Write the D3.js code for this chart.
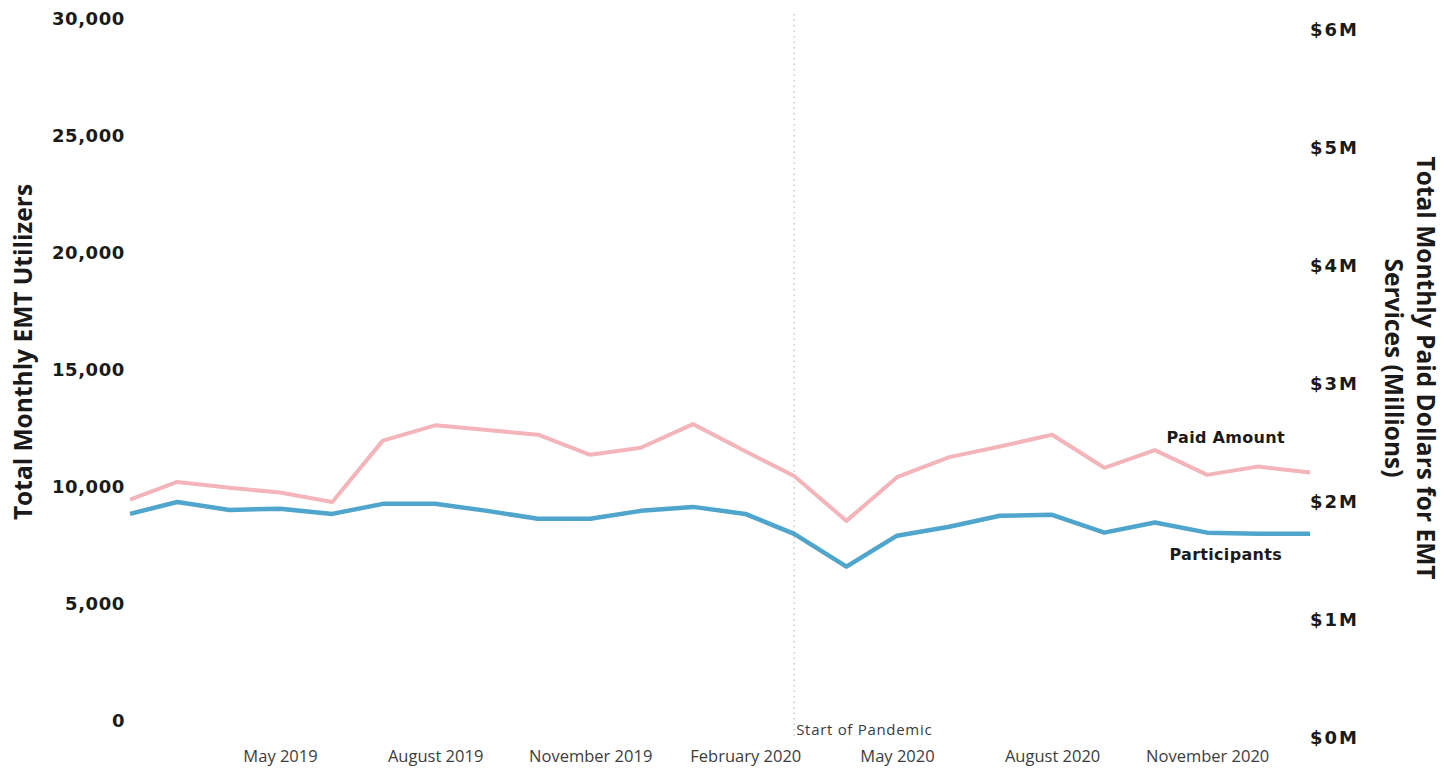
<!DOCTYPE html>
<html>
<head>
<meta charset="utf-8">
<script src="https://cdn.jsdelivr.net/npm/d3@7"></script>
<style>
  html, body { margin: 0; padding: 0; background: #ffffff; }
  svg { display: block; }
</style>
</head>
<body>
<div id="chart"></div>
<script>
const months = [
  "2019-02", "2019-03", "2019-04", "2019-05", "2019-06", "2019-07",
  "2019-08", "2019-09", "2019-10", "2019-11", "2019-12", "2020-01",
  "2020-02", "2020-03", "2020-04", "2020-05", "2020-06", "2020-07",
  "2020-08", "2020-09", "2020-10", "2020-11", "2020-12", "2021-01"
];

// total monthly EMT utilizers (left axis)
const participants = [
  8850, 9360, 9020, 9070, 8850, 9280, 9280, 8980, 8640, 8640, 8980, 9150,
  8850, 8000, 6600, 7920, 8300, 8770, 8810, 8050, 8480, 8050, 8000, 8000
];

// paid dollars in millions (right axis)
const paidAmount = [
  2.02, 2.17, 2.12, 2.08, 2.00, 2.52, 2.65, 2.61, 2.57, 2.40, 2.46, 2.66,
  2.43, 2.22, 1.84, 2.21, 2.38, 2.47, 2.57, 2.29, 2.44, 2.23, 2.30, 2.25
];

const leftTicks = [0, 5000, 10000, 15000, 20000, 25000, 30000];
const rightTicks = [0, 1, 2, 3, 4, 5, 6];
const xTickLabels = ["2019-05", "2019-08", "2019-11", "2020-02", "2020-05", "2020-08", "2020-11"];
const pandemicStart = "2020-03";

const palette = {
  ink: "#1a1a1a",
  axisText: "#3c3c3c",
  paid: "#f3b4ba",
  participants: "#4fa5cb",
  marker: "#bdbdbd"
};

const width = 1450;
const height = 773;
const parseMonth = d3.timeParse("%Y-%m");
const monthLabel = d3.timeFormat("%B %Y");

const svg = d3.select("#chart")
  .append("svg")
  .attr("width", width)
  .attr("height", height);

svg.append("rect")
  .attr("width", width)
  .attr("height", height)
  .attr("fill", "#ffffff");

const x = d3.scaleTime()
  .domain([parseMonth(months[0]), parseMonth(months[months.length - 1])])
  .range([130, 1310]);

const yLeft = d3.scaleLinear().domain([0, 30000]).range([721, 19]);
const yRight = d3.scaleLinear().domain([0, 6]).range([738, 30]);

// left axis
const leftAxis = svg.append("g")
  .attr("transform", "translate(125,0)")
  .call(d3.axisLeft(yLeft).tickValues(leftTicks).tickFormat(d3.format(",")).tickSize(0).tickPadding(0));
leftAxis.select(".domain").remove();
leftAxis.selectAll("text")
  .attr("fill", palette.ink)
  .attr("font-family", "DejaVu Sans, sans-serif")
  .attr("font-size", 18)
  .attr("font-weight", 700)
  .attr("letter-spacing", 0.6);

// right axis
const rightAxis = svg.append("g")
  .attr("transform", "translate(1310,0)")
  .call(d3.axisRight(yRight).tickValues(rightTicks).tickFormat((d) => `$${d}M`).tickSize(0).tickPadding(0));
rightAxis.select(".domain").remove();
rightAxis.selectAll("text")
  .attr("fill", palette.ink)
  .attr("font-family", "DejaVu Sans, sans-serif")
  .attr("font-size", 18)
  .attr("font-weight", 700)
  .attr("letter-spacing", 2);

// bottom axis (month labels only)
const bottomAxis = svg.append("g")
  .attr("transform", "translate(0,750)")
  .call(d3.axisBottom(x).tickValues(xTickLabels.map(parseMonth)).tickFormat(monthLabel).tickSize(0).tickPadding(0));
bottomAxis.select(".domain").remove();
bottomAxis.selectAll("text")
  .attr("fill", palette.axisText)
  .attr("font-family", "Open Sans, sans-serif")
  .attr("font-size", 16.5);

// axis titles
svg.append("text")
  .attr("transform", "translate(32,352) rotate(-90)")
  .attr("text-anchor", "middle")
  .attr("fill", palette.ink)
  .attr("font-family", "Open Sans, sans-serif")
  .attr("font-size", 24.5)
  .attr("font-weight", 700)
  .text("Total Monthly EMT Utilizers");

const rightTitle = svg.append("text")
  .attr("transform", "translate(1417,368) rotate(90)")
  .attr("text-anchor", "middle")
  .attr("fill", palette.ink)
  .attr("font-family", "Open Sans, sans-serif")
  .attr("font-size", 24.5)
  .attr("font-weight", 700);
rightTitle.append("tspan").attr("x", 0).attr("dy", 0).text("Total Monthly Paid Dollars for EMT");
rightTitle.append("tspan").attr("x", 0).attr("dy", 32).text("Services (Millions)");

// start of pandemic marker
const px = x(parseMonth(pandemicStart));
svg.append("line")
  .attr("x1", px)
  .attr("x2", px)
  .attr("y1", 14)
  .attr("y2", 740)
  .attr("stroke", palette.marker)
  .attr("stroke-width", 1.2)
  .attr("stroke-dasharray", "1.5 4");

svg.append("text")
  .attr("x", px + 2)
  .attr("y", 735)
  .attr("fill", palette.axisText)
  .attr("font-family", "Open Sans, sans-serif")
  .attr("font-size", 15)
  .attr("letter-spacing", 0.7)
  .text("Start of Pandemic");

// lines
const paidLine = d3.line()
  .x((d, i) => x(parseMonth(months[i])))
  .y((d) => yRight(d));

const partLine = d3.line()
  .x((d, i) => x(parseMonth(months[i])))
  .y((d) => yLeft(d));

svg.append("path")
  .datum(paidAmount)
  .attr("d", paidLine)
  .attr("fill", "none")
  .attr("stroke", palette.paid)
  .attr("stroke-width", 4)
  .attr("stroke-linejoin", "round");

svg.append("path")
  .datum(participants)
  .attr("d", partLine)
  .attr("fill", "none")
  .attr("stroke", palette.participants)
  .attr("stroke-width", 4.5)
  .attr("stroke-linejoin", "round");

// series labels
const labelX = x(new Date(2020, 10, 12));
const novIndex = months.indexOf("2020-11");

svg.append("text")
  .attr("x", labelX)
  .attr("y", yRight(paidAmount[novIndex]) - 32)
  .attr("text-anchor", "middle")
  .attr("fill", palette.ink)
  .attr("font-family", "DejaVu Sans, sans-serif")
  .attr("font-size", 16)
  .attr("font-weight", 700)
  .attr("letter-spacing", 0.3)
  .text("Paid Amount");

svg.append("text")
  .attr("x", labelX)
  .attr("y", yLeft(participants[novIndex]) + 27)
  .attr("text-anchor", "middle")
  .attr("fill", palette.ink)
  .attr("font-family", "DejaVu Sans, sans-serif")
  .attr("font-size", 16)
  .attr("font-weight", 700)
  .attr("letter-spacing", 0.3)
  .text("Participants");
</script>
</body>
</html>
